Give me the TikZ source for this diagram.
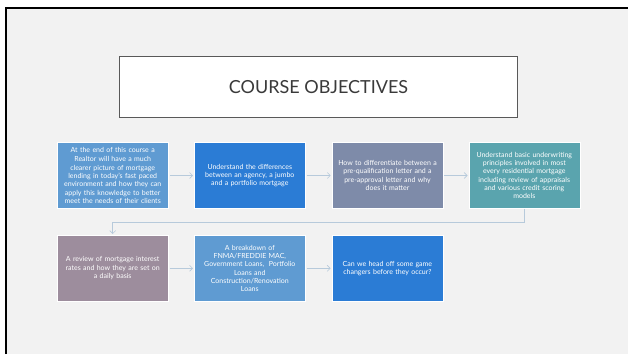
\documentclass[tikz,border=0pt]{standalone}
\usepackage{fontspec}
\setmainfont{Lato}
\usetikzlibrary{arrows.meta}
\definecolor{slidebg}{HTML}{F2F2F2}
\definecolor{titleline}{HTML}{595959}
\definecolor{titletext}{HTML}{3A3A3A}
\definecolor{lightblue}{HTML}{5F9BD2}
\definecolor{brightblue}{HTML}{2B7CD5}
\definecolor{slate}{HTML}{7E8BA9}
\definecolor{teal}{HTML}{5AA4AE}
\definecolor{mauve}{HTML}{9D8D9D}
\definecolor{linkcol}{HTML}{B7CADB}
\tikzset{
  objbox/.style={rectangle, draw=white, line width=0.6pt, minimum width=111pt,
    minimum height=66pt, inner sep=0pt, text width=108pt, align=center,
    text=white, font=\fontsize{7pt}{8.3pt}\selectfont},
  link/.style={draw=linkcol, line width=0.6pt, shorten <=1pt, shorten >=1pt,
    -{Straight Barb[length=3pt,width=6pt]}}
}
\begin{document}
\begin{tikzpicture}[x=1pt,y=-1pt]
  % page and slide background
  \useasboundingbox (0,0) rectangle (628,354);
  \fill[white] (0,0) rectangle (628,354);
  \fill[slidebg] (6,8) rectangle (628,354);
  \draw[black, line width=2pt] (6,354) -- (6,8) -- (628,8);

  % heading
  \node[draw=titleline, fill=white, line width=1.2pt, minimum width=398pt,
        minimum height=61pt, inner sep=0pt, text=titletext,
        font=\fontsize{18pt}{21pt}\selectfont] (title) at (318.5,87) {COURSE OBJECTIVES};

  % first row
  \node[objbox, fill=lightblue] (b1) at (112.7,175.5)
    {At the end of this course a\\[1pt] Realtor will have a much\\ clearer picture of mortgage\\ lending in today's fast paced\\ environment and how they can\\ apply this knowledge to better\\ meet the needs of their clients};
  \node[objbox, fill=brightblue] (b2) at (249.8,175.5)
    {Understand the differences\\ between an agency, a jumbo\\ and a portfolio mortgage};
  \node[objbox, fill=slate] (b3) at (387.5,175.5)
    {How to differentiate between a\\ pre-qualification letter and a\\ pre-approval letter and why\\ does it matter};
  \node[objbox, fill=teal] (b4) at (524.3,175.5)
    {Understand basic underwriting\\ principles involved in most\\ every residential mortgage\\ including review of appraisals\\ and various credit scoring\\ models};

  % second row
  \node[objbox, fill=mauve] (b5) at (112.7,268.3)
    {A review of mortgage interest\\ rates and how they are set on\\ a daily basis};
  \node[objbox, fill=lightblue] (b6) at (249.8,268.3)
    {A breakdown of\\ FNMA/FREDDIE MAC,\\ Government Loans,~~Portfolio\\ Loans and\\ Construction/Renovation\\ Loans};
  \node[objbox, fill=brightblue] (b7) at (387.4,268.3)
    {Can we head off some game\\ changers before they occur?};

  % connectors
  \coordinate (turn) at (524.3,222.3);
  \draw[link] (b1) -- (b2);
  \draw[link] (b2) -- (b3);
  \draw[link] (b3) -- (b4);
  \draw[link, shorten <=0pt] (b4.south) -- (turn) -| (b5.north);
  \draw[link] (b5) -- (b6);
  \draw[link] (b6) -- (b7);
\end{tikzpicture}
\end{document}
